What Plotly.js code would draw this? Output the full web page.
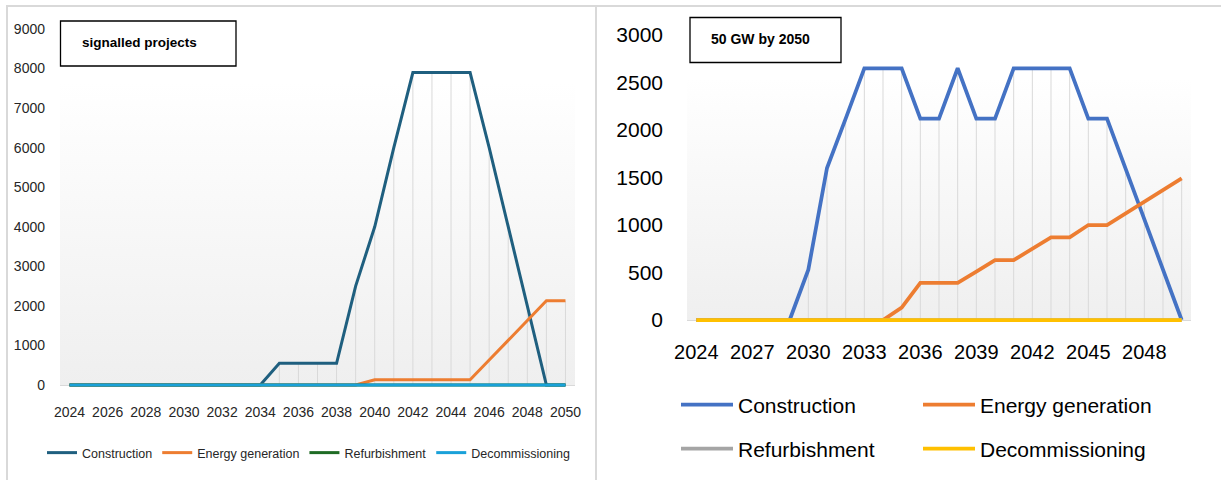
<!DOCTYPE html>
<html><head><meta charset="utf-8">
<script src="https://cdn.plot.ly/plotly-3.0.1.min.js"></script>
<style>html,body{margin:0;padding:0;background:#fff}#chart{width:1221px;height:480px}</style>
</head><body><div id="chart"></div>
<script>
// ---------- data ----------
const years = [2024,2025,2026,2027,2028,2029,2030,2031,2032,2033,2034,2035,2036,2037,2038,2039,2040,2041,2042,2043,2044,2045,2046,2047,2048,2049,2050];

// left panel: signalled projects
const constructionL = [0,0,0,0,0,0,0,0,0,0,0,550,550,550,550,2500,4000,6000,7900,7900,7900,7900,6000,4000,2000,0,0];
const energyL       = [0,0,0,0,0,0,0,0,0,0,0,0,0,0,0,0,130,130,130,130,130,130,630,1130,1630,2130,2130];
const refurbL       = [0,0,0,0,0,0,0,0,0,0,0,0,0,0,0,0,0,0,0,0,0,0,0,0,0,0,0];
const decomL        = [0,0,0,0,0,0,0,0,0,0,0,0,0,0,0,0,0,0,0,0,0,0,0,0,0,0,0];

// right panel: 50 GW by 2050
const constructionR = [0,0,0,0,0,0,530,1600,2120,2650,2650,2650,2120,2120,2650,2120,2120,2650,2650,2650,2650,2120,2120,1590,1060,530,0];
const energyR       = [0,0,0,0,0,0,0,0,0,0,0,130,390,390,390,510,630,630,750,870,870,1000,1000,1120,1250,1370,1490];
const refurbR       = [0,0,0,0,0,0,0,0,0,0,0,0,0,0,0,0,0,0,0,0,0,0,0,0,0,0,0];
const decomR        = [0,0,0,0,0,0,0,0,0,0,0,0,0,0,0,0,0,0,0,0,0,0,0,0,0,0,0];

const seriesNames = ['Construction','Energy generation','Refurbishment','Decommissioning'];
const leftTitle = 'signalled projects';
const rightTitle = '50 GW by 2050';
const leftXTicks = [2024,2026,2028,2030,2032,2034,2036,2038,2040,2042,2044,2046,2048,2050];
const rightXTicks = [2024,2027,2030,2033,2036,2039,2042,2045,2048];
const leftYTicks = [0,1000,2000,3000,4000,5000,6000,7000,8000,9000];
const rightYTicks = [0,500,1000,1500,2000,2500,3000];

// ---------- helpers ----------
const W = 1221, H = 480;
const px = v => v / W;
const py = v => 1 - v / H;

function dropLines(seriesList, xa, ya) {
  const xs = [], ys = [];
  years.forEach((yr, i) => {
    const m = Math.max(...seriesList.map(s => s[i]));
    if (m > 0) { xs.push(yr, yr, null); ys.push(0, m, null); }
  });
  return {x: xs, y: ys, xaxis: xa, yaxis: ya, mode: 'lines', type: 'scatter',
    line: {color: '#d9d9d9', width: 1}, hoverinfo: 'skip', showlegend: false};
}

const fontL = '"Liberation Sans", Arial, sans-serif';
const fontR = '"Liberation Sans", Arial, sans-serif';

const colorsL = ['#1f5f7f', '#ed7d31', '#1e6b24', '#19a1d9'];
const colorsR = ['#4472c4', '#ed7d31', '#a5a5a5', '#ffc000'];
const dataL = [constructionL, energyL, refurbL, decomL];
const dataR = [constructionR, energyR, refurbR, decomR];

const traces = [dropLines(dataL, 'x', 'y'), dropLines(dataR, 'x2', 'y2')];
dataL.forEach((s, i) => traces.push({
  x: years, y: s, name: seriesNames[i], type: 'scatter', mode: 'lines',
  xaxis: 'x', yaxis: 'y', legend: 'legend',
  line: {color: colorsL[i], width: 3, shape: 'linear'}
}));
dataR.forEach((s, i) => traces.push({
  x: years, y: s, name: seriesNames[i], type: 'scatter', mode: 'lines',
  xaxis: 'x2', yaxis: 'y2', legend: i < 2 ? 'legend2' : 'legend3',
  line: {color: colorsR[i], width: 3.75, shape: 'linear'}
}));

// geometry (pixels)
const L = {x0: 60, x1: 575, yTop: 29, yZero: 385};
const R = {x0: 687, x1: 1191, yTop: 35, yZero: 320};
const ext = 4; // extra px below zero so lines at 0 are not clipped
const scaleL = (L.yZero - L.yTop) / 9000;
const scaleR = (R.yZero - R.yTop) / 3000;

const grad = "<svg xmlns='http://www.w3.org/2000/svg' width='100' height='100' preserveAspectRatio='none'><defs><linearGradient id='g' x1='0' y1='0' x2='0' y2='1'><stop offset='0' stop-color='#ffffff'/><stop offset='0.15' stop-color='#ffffff'/><stop offset='1' stop-color='#efefef'/></linearGradient></defs><rect width='100' height='100' fill='url(#g)'/></svg>";
const gradSrc = 'data:image/svg+xml;charset=utf-8,' + encodeURIComponent(grad);

const axisCommon = {showgrid: false, showline: false, zeroline: false, ticks: '', fixedrange: true, tickangle: 0};

const layout = {
  width: W, height: H,
  margin: {l: 0, r: 0, t: 0, b: 0, pad: 0},
  paper_bgcolor: '#ffffff', plot_bgcolor: 'rgba(0,0,0,0)',
  showlegend: true,
  xaxis: Object.assign({}, axisCommon, {
    anchor: 'y',
    domain: [px(L.x0), px(L.x1)], range: [2023.5, 2050.5],
    tickmode: 'array', tickvals: leftXTicks, ticktext: leftXTicks.map(String),
    tickfont: {family: fontL, size: 14, color: '#262626'}, ticklabelstandoff: 13
  }),
  yaxis: Object.assign({}, axisCommon, {
    anchor: 'x',
    domain: [py(L.yZero + ext), py(L.yTop)], range: [-ext / scaleL, 9000],
    tickmode: 'array', tickvals: leftYTicks, ticktext: leftYTicks.map(String),
    zeroline: true, zerolinecolor: '#d9d9d9', zerolinewidth: 1,
    tickfont: {family: fontL, size: 14, color: '#262626'}, ticklabelstandoff: 14
  }),
  xaxis2: Object.assign({}, axisCommon, {
    anchor: 'y2',
    domain: [px(R.x0), px(R.x1)], range: [2023.5, 2050.5],
    tickmode: 'array', tickvals: rightXTicks, ticktext: rightXTicks.map(String),
    tickfont: {family: fontR, size: 20, color: '#000000'}, ticklabelstandoff: 14
  }),
  yaxis2: Object.assign({}, axisCommon, {
    anchor: 'x2',
    domain: [py(R.yZero + ext), py(R.yTop)], range: [-ext / scaleR, 3000],
    tickmode: 'array', tickvals: rightYTicks, ticktext: rightYTicks.map(String),
    zeroline: true, zerolinecolor: '#d9d9d9', zerolinewidth: 1,
    tickfont: {family: fontR, size: 21, color: '#000000'}, ticklabelstandoff: 23
  }),
  legend: {
    orientation: 'h', x: px(42), xanchor: 'left', y: py(453), yanchor: 'middle',
    font: {family: fontL, size: 12.5, color: '#262626'}, bgcolor: 'rgba(0,0,0,0)', itemclick: false
  },
  legend2: {
    orientation: 'h', x: px(676), xanchor: 'left', y: py(405), yanchor: 'middle',
    entrywidth: 175, entrywidthmode: 'pixels', itemwidth: 52,
    font: {family: fontR, size: 21, color: '#000000'}, bgcolor: 'rgba(0,0,0,0)', itemclick: false
  },
  legend3: {
    orientation: 'h', x: px(676), xanchor: 'left', y: py(449), yanchor: 'middle',
    entrywidth: 175, entrywidthmode: 'pixels', itemwidth: 52,
    font: {family: fontR, size: 21, color: '#000000'}, bgcolor: 'rgba(0,0,0,0)', itemclick: false
  },
  images: [
    {source: gradSrc, xref: 'paper', yref: 'paper', x: px(L.x0), y: py(L.yTop),
     sizex: (L.x1 - L.x0) / W, sizey: (L.yZero - L.yTop) / H, sizing: 'stretch',
     xanchor: 'left', yanchor: 'top', layer: 'below'},
    {source: gradSrc, xref: 'paper', yref: 'paper', x: px(R.x0), y: py(R.yTop),
     sizex: (R.x1 - R.x0) / W, sizey: (R.yZero - R.yTop) / H, sizing: 'stretch',
     xanchor: 'left', yanchor: 'top', layer: 'below'}
  ],
  shapes: [
    // panel borders
    {type: 'line', xref: 'paper', yref: 'paper', x0: px(6), x1: 1, y0: py(6), y1: py(6), line: {color: '#d9d9d9', width: 2}},
    {type: 'line', xref: 'paper', yref: 'paper', x0: px(7), x1: px(7), y0: py(5), y1: 0, line: {color: '#d9d9d9', width: 2}},
    {type: 'line', xref: 'paper', yref: 'paper', x0: px(596), x1: px(596), y0: py(5), y1: 0, line: {color: '#d9d9d9', width: 2}},
    // title boxes
    {type: 'rect', xref: 'paper', yref: 'paper', x0: px(60.5), x1: px(236), y0: py(21), y1: py(66), line: {color: '#000000', width: 1.3}, fillcolor: '#ffffff'},
    {type: 'rect', xref: 'paper', yref: 'paper', x0: px(690), x1: px(841), y0: py(17.5), y1: py(62.5), line: {color: '#000000', width: 1.3}, fillcolor: '#ffffff'}
  ],
  annotations: [
    {text: '<b>' + leftTitle + '</b>', xref: 'paper', yref: 'paper', x: px(80), y: py(42), xanchor: 'left', yanchor: 'middle',
     showarrow: false, font: {family: fontL, size: 13.5, color: '#000000'}},
    {text: '<b>' + rightTitle + '</b>', xref: 'paper', yref: 'paper', x: px(709), y: py(39), xanchor: 'left', yanchor: 'middle',
     showarrow: false, font: {family: fontR, size: 14, color: '#000000'}}
  ]
};

Plotly.newPlot('chart', traces, layout, {displayModeBar: false, staticPlot: true});
</script>
</body></html>
